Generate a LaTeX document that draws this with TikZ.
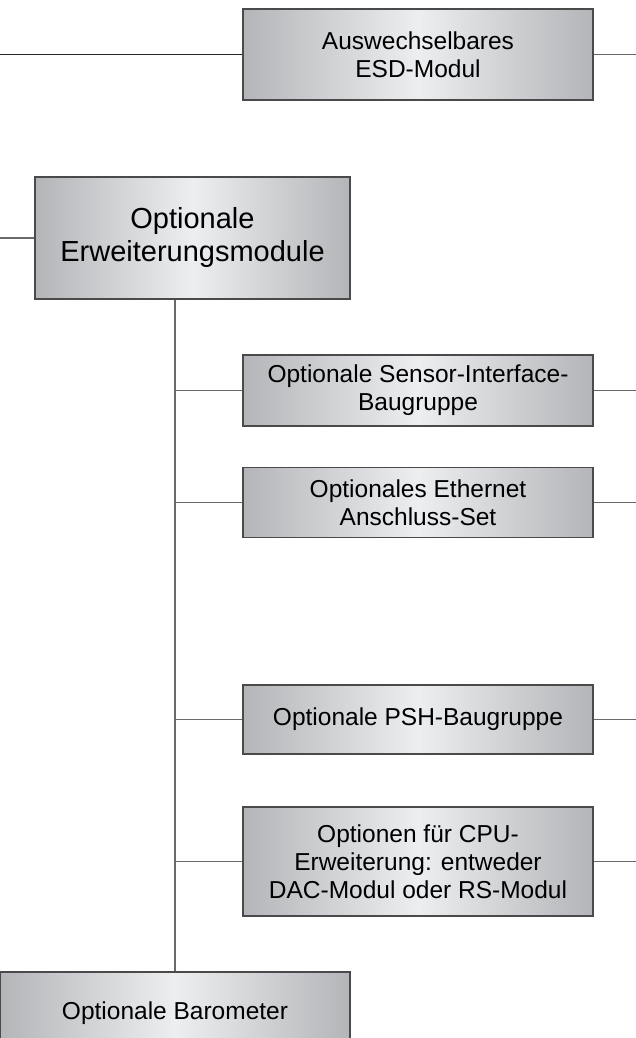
\documentclass[tikz,border=0pt]{standalone}
\usepackage{fontspec}
\setmainfont{Liberation Sans}
\definecolor{boxedge}{HTML}{B3B5B8}
\definecolor{boxmid}{HTML}{EDEEF0}
\definecolor{boxline}{HTML}{4A4A4A}
\definecolor{conn}{HTML}{6A6A6A}
\tikzset{
  modbox/.style={draw=boxline, line width=1.4pt, rectangle, align=center,
    left color=boxedge, right color=boxedge, middle color=boxmid,
    inner sep=0pt, font=\fontsize{24.5}{28}\selectfont},
  bigbox/.style={modbox, font=\fontsize{29}{33}\selectfont},
  link/.style={draw=conn, line width=1.2pt},
  darklink/.style={draw=black!85, line width=1.5pt}
}
\begin{document}
\begin{tikzpicture}[x=1pt,y=-1pt]
\useasboundingbox (0,0) rectangle (636,1038);
\clip (0,0) rectangle (636,1038);
\coordinate (L) at (0,0);
\coordinate (R) at (636,0);
\node[modbox, minimum width=350pt, minimum height=91pt] (esd) at (418,54.5) {Auswechselbares\\ESD-Modul};
\node[bigbox, minimum width=315pt, minimum height=122pt] (erw) at (192.5,238) {Optionale\\Erweiterungsmodule};
\node[modbox, minimum width=350pt, minimum height=71pt] (sensor) at (418,390.5) {Optionale Sensor-Interface-\\Baugruppe};
\node[modbox, minimum width=350pt, minimum height=70pt] (eth) at (418,502.5) {Optionales Ethernet\\Anschluss-Set};
\node[modbox, minimum width=350pt, minimum height=69pt] (psh) at (418,719.5) {Optionale PSH-Baugruppe};
\node[modbox, minimum width=350pt, minimum height=109pt] (cpu) at (418,861.5) {Optionen für CPU-\\Erweiterung: entweder\\DAC-Modul oder RS-Modul};
\node[modbox, minimum width=350pt, minimum height=82pt] (baro) at (175,1013) {Optionale Barometer};
% trunk
\draw[link] (baro.north) -- (baro.north |- erw.south);
% branches
\foreach \n in {sensor,eth,psh,cpu}{
  \draw[link] (\n.west) -- (\n.west -| baro.north);
  \draw[link] (\n.east) -- (\n.east -| R);
}
\draw[darklink] (esd.west) -- (esd.west -| L);
\draw[link] (esd.east) -- (esd.east -| R);
\draw[link] (erw.west) -- (erw.west -| L);
\end{tikzpicture}
\end{document}
